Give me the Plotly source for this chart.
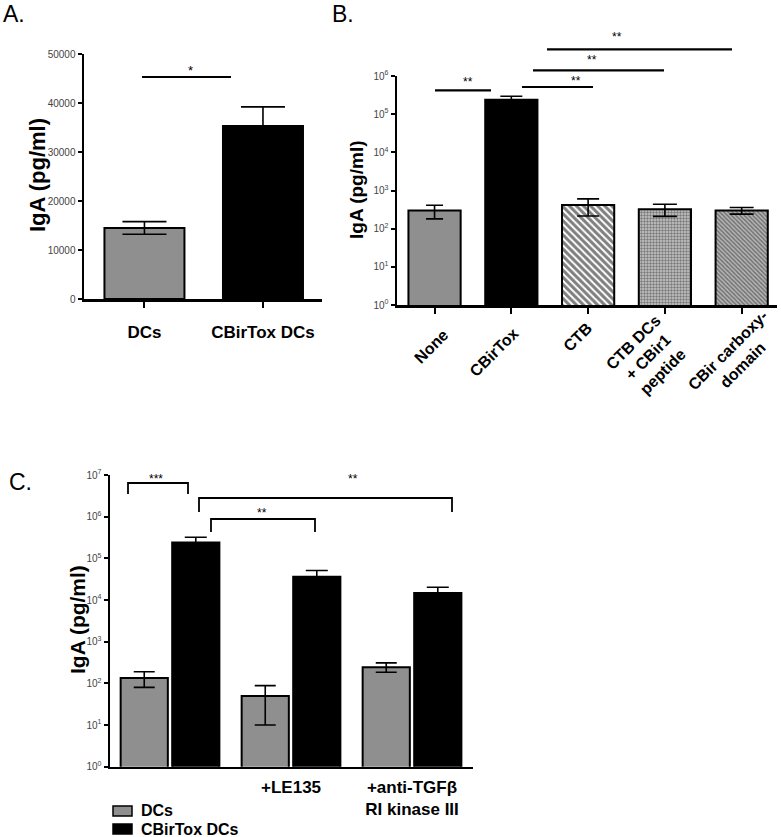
import plotly.graph_objects as go

W, H = 781, 837
def px(x): return x / W
def py(y): return 1 - y / H

FONT = "Liberation Sans, Arial, sans-serif"
GRAY = "#8f8f8f"

# ---------------- Data ----------------
# Panel A
a_categories = ["DCs", "CBirTox DCs"]
a_values = [14500, 35300]
a_err = [1300, 3900]

# Panel B
b_categories = ["None", "CBirTox", "CTB", "CTB DCs<br>+ CBir1<br>peptide", "CBir carboxy-<br>domain"]
b_values = [300, 237000, 415, 325, 300]
b_err_plus = [110, 59000, 190, 110, 60]
b_err_minus = [120, 59000, 200, 115, 60]

# Panel C
c_groups = ["", "+LE135", "+anti-TGF\u03b2<br>RI kinase III"]
c_series = ["DCs", "CBirTox DCs"]
c_dcs = [135, 50, 245]
c_dcs_plus = [55, 38, 65]
c_dcs_minus = [55, 40, 60]
c_cbt = [240000, 36000, 14700]
c_cbt_plus = [80000, 15000, 5500]
c_cbt_minus = [80000, 15000, 5500]

log_ticks = [1, 10, 100, 1000, 10000, 100000, 1000000, 10000000]
log_ticktext = ["10<sup>%d</sup>" % i for i in range(8)]

fig = go.Figure()

# ---------------- Panel A ----------------
fig.add_trace(go.Bar(
    x=[0, 1], y=a_values, width=0.675,
    marker=dict(color=[GRAY, "black"], line=dict(color="black", width=2)),
    error_y=dict(type="data", array=a_err, color="black", thickness=1.6, width=22),
    xaxis="x", yaxis="y", showlegend=False, hoverinfo="skip"))

# ---------------- Panel B ----------------
b_colors = [GRAY, "black", "white", "#bcbcbc", "#a8a8a8"]
b_patterns = [
    None, None,
    dict(shape="\\", fgcolor="black", bgcolor="white", size=5, solidity=0.6),
    dict(shape=".", fgcolor="#2a2a2a", bgcolor="#c8c8c8", size=3, solidity=0.5),
    dict(shape="\\", fgcolor="#2a2a2a", bgcolor="#b8b8b8", size=3, solidity=0.5),
]
b_capw = [8.5, 11, 11, 12, 12]
for i in range(len(b_categories)):
    marker = dict(color=b_colors[i], line=dict(color="black", width=2))
    if b_patterns[i] is not None:
        marker["pattern"] = b_patterns[i]
    fig.add_trace(go.Bar(
        x=[i], y=[b_values[i]], width=0.68, marker=marker, name=b_categories[i],
        error_y=dict(type="data", array=[b_err_plus[i]], arrayminus=[b_err_minus[i]],
                     color="black", thickness=1.6, width=b_capw[i]),
        xaxis="x2", yaxis="y2", showlegend=False, hoverinfo="skip"))

# ---------------- Panel C ----------------
fig.add_trace(go.Bar(
    x=[0, 1, 2], y=c_dcs, width=0.39, offset=-0.408, name=c_series[0],
    marker=dict(color=GRAY, line=dict(color="black", width=2)),
    error_y=dict(type="data", array=c_dcs_plus, arrayminus=c_dcs_minus,
                 color="black", thickness=1.6, width=10.5),
    xaxis="x3", yaxis="y3", showlegend=False, hoverinfo="skip"))
fig.add_trace(go.Bar(
    x=[0, 1, 2], y=c_cbt, width=0.39, offset=0.018, name=c_series[1],
    marker=dict(color="black", line=dict(color="black", width=2)),
    error_y=dict(type="data", array=c_cbt_plus, arrayminus=c_cbt_minus,
                 color="black", thickness=1.6, width=11),
    xaxis="x3", yaxis="y3", showlegend=False, hoverinfo="skip"))

tickfont_small = dict(family=FONT, size=10, color="#444444")
axis_common = dict(showline=True, linecolor="black", linewidth=2.5, showgrid=False,
                   zeroline=False, fixedrange=True)

layout = dict(
    width=W, height=H, margin=dict(l=0, r=0, t=0, b=0, autoexpand=False),
    paper_bgcolor="white", plot_bgcolor="rgba(0,0,0,0)",
    font=dict(family=FONT, color="black"),
    showlegend=False, hovermode=False,
    xaxis=dict(domain=[px(84), px(322)], range=[-0.51, 1.498], anchor="y",
               tickvals=[0, 1], ticktext=["<b>%s</b>" % c for c in a_categories],
               ticks="outside", ticklen=6, tickwidth=2, tickcolor="black",
               tickfont=dict(family=FONT, size=17, color="black"),
               ticklabelstandoff=10, **axis_common),
    yaxis=dict(domain=[py(299), py(54)], range=[0, 50000], anchor="x",
               tickvals=[0, 10000, 20000, 30000, 40000, 50000],
               ticktext=["0", "10000", "20000", "30000", "40000", "50000"],
               ticks="outside", ticklen=4, tickwidth=2, tickcolor="black",
               tickfont=tickfont_small, ticklabelstandoff=0, **axis_common),
    xaxis2=dict(domain=[px(397), px(777)], range=[-0.489, 4.46], anchor="y2",
                tickvals=list(range(len(b_categories))), showticklabels=False,
                ticks="outside", ticklen=6, tickwidth=2, tickcolor="black",
                **axis_common),
    yaxis2=dict(domain=[py(305), py(76)], type="log", range=[0, 6], anchor="x2",
                tickvals=log_ticks[:7], ticktext=log_ticktext[:7],
                ticks="outside", ticklen=4, tickwidth=2, tickcolor="black",
                tickfont=tickfont_small, ticklabelstandoff=0, **axis_common),
    xaxis3=dict(domain=[px(110), px(473)], range=[-0.496, 2.504], anchor="y3",
                tickvals=[1, 2], ticktext=["<b>%s</b>" % g for g in c_groups[1:]],
                ticks="", tickfont=dict(family=FONT, size=17, color="black"),
                ticklabelstandoff=3, **axis_common),
    yaxis3=dict(domain=[py(766.7), py(475)], type="log", range=[0, 7], anchor="x3",
                tickvals=log_ticks, ticktext=log_ticktext,
                ticks="outside", ticklen=4, tickwidth=2, tickcolor="black",
                tickfont=tickfont_small, ticklabelstandoff=0, **axis_common),
)
fig.update_layout(**layout)

ann = []
shapes = []

def text(x, y, s, size, angle=0, bold=False, xanchor="center"):
    ann.append(dict(x=px(x), y=py(y), xref="paper", yref="paper",
                    text=("<b>%s</b>" % s) if bold else s,
                    showarrow=False, textangle=angle, xanchor=xanchor, yanchor="middle",
                    align="center", borderpad=0,
                    font=dict(family=FONT, size=size, color="black")))

def hline(x0, x1, y, w=2.2):
    shapes.append(dict(type="line", xref="paper", yref="paper", x0=px(x0), x1=px(x1),
                       y0=py(y), y1=py(y), line=dict(color="black", width=w)))

def bracket(x0, x1, ytop, ybot, w=1.8):
    path = "M %f,%f L %f,%f L %f,%f L %f,%f" % (px(x0), py(ybot), px(x0), py(ytop),
                                               px(x1), py(ytop), px(x1), py(ybot))
    shapes.append(dict(type="path", xref="paper", yref="paper", path=path,
                       line=dict(color="black", width=w)))

def rect(x0, y0, x1, y1, color):
    shapes.append(dict(type="rect", xref="paper", yref="paper", x0=px(x0), x1=px(x1),
                       y0=py(y1), y1=py(y0), fillcolor=color,
                       line=dict(color="black", width=1.5)))

# panel letters
text(14, 14, "A.", 23)
text(343, 14, "B.", 23)
text(20, 482, "C.", 23)

# y titles
text(37, 175, "IgA (pg/ml)", 22, angle=-90, bold=True)
text(357, 190, "IgA (pg/ml)", 19, angle=-90, bold=True)
text(77, 620, "IgA (pg/ml)", 21, angle=-90, bold=True)

# Panel B rotated category labels
b_label_pos = [(431, 346), (494, 353), (577, 337), (648, 358), (735, 358)]
for lab, (lx, ly) in zip(b_categories, b_label_pos):
    text(lx, ly, lab, 16, angle=-45, bold=True)

# Panel A significance
hline(142, 231, 77)
text(190, 70, "*", 13)

# Panel B significance
hline(435, 491, 90.3)
text(468, 82, "**", 12)
hline(522, 593, 87)
text(576, 81, "**", 12)
hline(533, 664, 70.3)
text(592, 60, "**", 12)
hline(547, 732, 49.3)
text(617, 37, "**", 12)

# Panel C brackets
bracket(128, 188, 483, 494)
text(156, 479, "***", 12)
bracket(199, 452, 498, 512)
text(353, 479, "**", 12)
bracket(211, 315, 519, 532)
text(262, 513, "**", 12)

# Panel C legend
rect(113, 806, 132, 816, GRAY)
text(140, 810.5, c_series[0], 16, bold=True, xanchor="left")
rect(113, 824, 132, 834, "black")
text(140, 829, c_series[1], 16, bold=True, xanchor="left")

fig.update_layout(annotations=ann, shapes=shapes)
fig.write_html("out.html", config={"displayModeBar": False, "staticPlot": True},
               post_script="document.body.style.margin='0px';document.body.style.overflow='hidden';")
